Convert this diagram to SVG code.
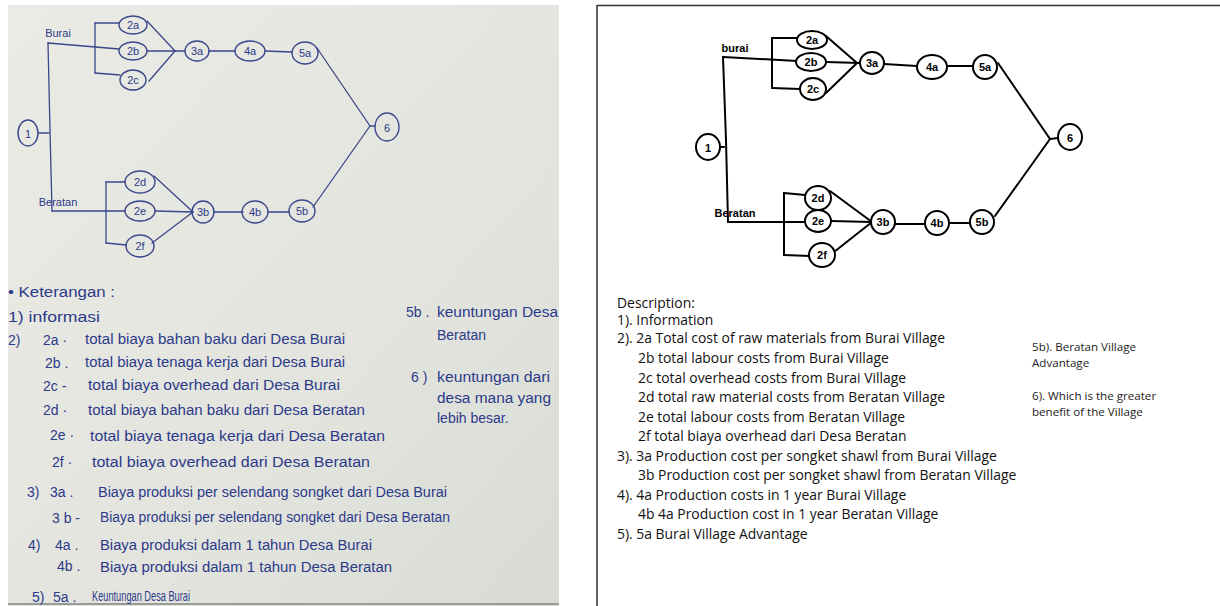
<svg xmlns="http://www.w3.org/2000/svg" width="1220" height="606" viewBox="0 0 1220 606">
<defs>
<linearGradient id="paper" x1="0" y1="0" x2="1" y2="1">
<stop offset="0" stop-color="#ebebe5"/>
<stop offset="0.6" stop-color="#e3e4de"/>
<stop offset="1" stop-color="#d8dbd5"/>
</linearGradient>
<style>
.pn{fill:none;stroke:#3a478c;stroke-width:1.4}
.pl{fill:none;stroke:#3a478c;stroke-width:1.3;stroke-linecap:round}
.pt{font-family:"Liberation Sans",sans-serif;font-size:11px;fill:#2c3a8a;text-anchor:middle}
.hw{font-family:"Liberation Sans",sans-serif;font-size:14px;fill:#2c3a8a}
.dn{fill:#fff;stroke:#000;stroke-width:2}
.dl{fill:none;stroke:#000;stroke-width:2;stroke-linecap:round}
.dt{font-family:"Liberation Sans",sans-serif;font-size:11px;font-weight:bold;fill:#000;text-anchor:middle}
.tx{font-family:"Open Sans",sans-serif;font-size:13.9px;fill:#111}
.ts{font-family:"Open Sans",sans-serif;font-size:11.6px;fill:#222}
</style>
</defs>
<rect width="1220" height="606" fill="#fff"/>

<!-- LEFT: photo of handwritten diagram -->
<g id="photo">
<rect x="8" y="5" width="551" height="601" fill="url(#paper)"/>
<line x1="8" y1="604" x2="559" y2="604" stroke="#9a9c98" stroke-width="2"/>
</g>

<g id="photo-connectors">
<line class="pl" x1="38" y1="133" x2="49" y2="133"/>
<polyline class="pl" points="48,43 50,130 52,211"/>
<line class="pl" x1="48" y1="43" x2="119" y2="49"/>
<line class="pl" x1="95" y1="23" x2="95" y2="73"/>
<line class="pl" x1="95" y1="23" x2="119" y2="23"/>
<line class="pl" x1="95" y1="73" x2="120" y2="75"/>
<line class="pl" x1="147" y1="21" x2="175" y2="51"/>
<line class="pl" x1="147" y1="51" x2="185" y2="51"/>
<line class="pl" x1="149" y1="81" x2="175" y2="51"/>
<line class="pl" x1="209" y1="51" x2="235" y2="51"/>
<line class="pl" x1="265" y1="51" x2="292" y2="52"/>
<line class="pl" x1="317" y1="48" x2="370" y2="126"/>
<line class="pl" x1="313" y1="207" x2="370" y2="126"/>
<line class="pl" x1="370" y1="126" x2="375" y2="126"/>
<line class="pl" x1="52" y1="211" x2="125" y2="211"/>
<line class="pl" x1="106" y1="182" x2="106" y2="243"/>
<line class="pl" x1="106" y1="182" x2="125" y2="182"/>
<line class="pl" x1="106" y1="243" x2="126" y2="245"/>
<line class="pl" x1="154" y1="176" x2="193" y2="212"/>
<line class="pl" x1="155" y1="211" x2="193" y2="212"/>
<line class="pl" x1="152" y1="243" x2="193" y2="212"/>
<line class="pl" x1="214" y1="212" x2="243" y2="212"/>
<line class="pl" x1="268" y1="212" x2="289" y2="212"/>
</g>

<g id="p1"><ellipse class="pn" cx="28" cy="133" rx="10" ry="13"/><text class="pt" x="28" y="138" font-size="14">1</text></g>
<g id="p2a"><ellipse class="pn" cx="133" cy="25" rx="14" ry="9"/><text class="pt" x="133" y="29">2a</text></g>
<g id="p2b"><ellipse class="pn" cx="133" cy="51" rx="14" ry="9"/><text class="pt" x="133" y="55">2b</text></g>
<g id="p2c"><ellipse class="pn" cx="133" cy="80" rx="13" ry="10"/><text class="pt" x="133" y="84">2c</text></g>
<g id="p3a"><ellipse class="pn" cx="197" cy="51" rx="12" ry="10"/><text class="pt" x="197" y="55">3a</text></g>
<g id="p4a"><ellipse class="pn" cx="250" cy="51" rx="15" ry="10"/><text class="pt" x="250" y="55">4a</text></g>
<g id="p5a"><ellipse class="pn" cx="305" cy="53" rx="13" ry="11"/><text class="pt" x="305" y="57">5a</text></g>
<g id="p6"><ellipse class="pn" cx="387" cy="127" rx="12" ry="14"/><text class="pt" x="387" y="132" font-size="13">6</text></g>
<g id="p2d"><ellipse class="pn" cx="140" cy="182" rx="15" ry="11"/><text class="pt" x="140" y="186">2d</text></g>
<g id="p2e"><ellipse class="pn" cx="140" cy="211" rx="15" ry="10"/><text class="pt" x="140" y="215">2e</text></g>
<g id="p2f"><ellipse class="pn" cx="140" cy="246" rx="14" ry="11"/><text class="pt" x="140" y="250">2f</text></g>
<g id="p3b"><ellipse class="pn" cx="203" cy="212" rx="11" ry="11"/><text class="pt" x="203" y="216">3b</text></g>
<g id="p4b"><ellipse class="pn" cx="255" cy="212" rx="13" ry="11"/><text class="pt" x="255" y="216">4b</text></g>
<g id="p5b"><ellipse class="pn" cx="302" cy="211" rx="13" ry="11"/><text class="pt" x="302" y="215">5b</text></g>
<g id="p-labels">
<text class="pt" x="58" y="37" text-anchor="start" font-size="11">Burai</text>
<text class="pt" x="58" y="206" text-anchor="start" font-size="11">Beratan</text>
</g>

<g id="photo-legend">
<text class="hw" x="8" y="297" textLength="107" lengthAdjust="spacingAndGlyphs">• Keterangan :</text>
<text class="hw" x="8" y="322" textLength="92" lengthAdjust="spacingAndGlyphs">1) informasi</text>
<text class="hw" x="8" y="345">2)</text>
<text class="hw" x="43" y="345">2a ·</text>
<text class="hw" x="85" y="344" textLength="260" lengthAdjust="spacingAndGlyphs">total biaya bahan baku dari Desa Burai</text>
<text class="hw" x="45" y="368">2b .</text>
<text class="hw" x="85" y="367" textLength="260" lengthAdjust="spacingAndGlyphs">total biaya tenaga kerja dari Desa Burai</text>
<text class="hw" x="43" y="391">2c -</text>
<text class="hw" x="88" y="390" textLength="252" lengthAdjust="spacingAndGlyphs">total biaya overhead dari Desa Burai</text>
<text class="hw" x="43" y="415">2d ·</text>
<text class="hw" x="88" y="415" textLength="277" lengthAdjust="spacingAndGlyphs">total biaya bahan baku dari Desa Beratan</text>
<text class="hw" x="50" y="440">2e ·</text>
<text class="hw" x="90" y="441" textLength="295" lengthAdjust="spacingAndGlyphs">total biaya tenaga kerja dari Desa Beratan</text>
<text class="hw" x="52" y="467">2f ·</text>
<text class="hw" x="92" y="467" textLength="278" lengthAdjust="spacingAndGlyphs">total biaya overhead dari Desa Beratan</text>
<text class="hw" x="27" y="497">3)</text>
<text class="hw" x="50" y="497">3a .</text>
<text class="hw" x="98" y="497" textLength="349" lengthAdjust="spacingAndGlyphs">Biaya produksi per selendang songket dari Desa Burai</text>
<text class="hw" x="52" y="523">3 b -</text>
<text class="hw" x="100" y="522" textLength="350" lengthAdjust="spacingAndGlyphs">Biaya produksi per selendang songket dari Desa Beratan</text>
<text class="hw" x="28" y="550">4)</text>
<text class="hw" x="55" y="550">4a .</text>
<text class="hw" x="100" y="550" textLength="272" lengthAdjust="spacingAndGlyphs">Biaya produksi dalam 1 tahun Desa Burai</text>
<text class="hw" x="57" y="571">4b .</text>
<text class="hw" x="100" y="572" textLength="292" lengthAdjust="spacingAndGlyphs">Biaya produksi dalam 1 tahun Desa Beratan</text>
<text class="hw" x="32" y="602">5)</text>
<text class="hw" x="53" y="602">5a .</text>
<text class="hw" x="92" y="601" font-size="11.5" textLength="98" lengthAdjust="spacingAndGlyphs">Keuntungan Desa Burai</text>
<text class="hw" x="406" y="317">5b .</text>
<text class="hw" x="437" y="317" font-size="13" textLength="121" lengthAdjust="spacingAndGlyphs">keuntungan Desa</text>
<text class="hw" x="437" y="340" font-size="13">Beratan</text>
<text class="hw" x="411" y="382">6 )</text>
<text class="hw" x="437" y="382" font-size="13" textLength="113" lengthAdjust="spacingAndGlyphs">keuntungan dari</text>
<text class="hw" x="437" y="403" font-size="13" textLength="114" lengthAdjust="spacingAndGlyphs">desa mana yang</text>
<text class="hw" x="437" y="423" font-size="12">lebih besar.</text>
</g>

<!-- RIGHT: redrawn diagram -->
<g id="frame">
<polyline points="597,606 597,5.5 1220,5.5" fill="none" stroke="#333" stroke-width="1.5"/>
</g>

<g id="connectors">
<line class="dl" x1="720" y1="147" x2="724" y2="147"/>
<polyline class="dl" points="723,57 726,140 728,222"/>
<line class="dl" x1="723" y1="57" x2="797" y2="61"/>
<line class="dl" x1="772" y1="38" x2="772" y2="88"/>
<line class="dl" x1="772" y1="38" x2="797" y2="38"/>
<line class="dl" x1="772" y1="88" x2="800" y2="89"/>
<line class="dl" x1="826" y1="36" x2="857" y2="63"/>
<line class="dl" x1="826" y1="62" x2="860" y2="63"/>
<line class="dl" x1="826" y1="93" x2="857" y2="63"/>
<line class="dl" x1="884" y1="64" x2="917" y2="66"/>
<line class="dl" x1="947" y1="66" x2="973" y2="66"/>
<line class="dl" x1="998" y1="63" x2="1050" y2="139"/>
<line class="dl" x1="995" y1="216" x2="1050" y2="139"/>
<line class="dl" x1="1050" y1="139" x2="1058" y2="138"/>
<line class="dl" x1="728" y1="222" x2="805" y2="222"/>
<line class="dl" x1="784" y1="193" x2="784" y2="255"/>
<line class="dl" x1="784" y1="193" x2="805" y2="195"/>
<line class="dl" x1="784" y1="255" x2="810" y2="256"/>
<line class="dl" x1="830" y1="191" x2="872" y2="222"/>
<line class="dl" x1="831" y1="221" x2="872" y2="222"/>
<line class="dl" x1="834" y1="252" x2="872" y2="222"/>
<line class="dl" x1="895" y1="224" x2="925" y2="224"/>
<line class="dl" x1="949" y1="223" x2="970" y2="223"/>
</g>

<g id="n1"><ellipse class="dn" cx="708" cy="147" rx="12" ry="13"/><text class="dt" x="708" y="152" font-size="14">1</text></g>
<g id="n2a"><ellipse class="dn" cx="812" cy="40" rx="15" ry="9"/><text class="dt" x="812" y="44">2a</text></g>
<g id="n2b"><ellipse class="dn" cx="811" cy="62" rx="15" ry="9"/><text class="dt" x="811" y="66">2b</text></g>
<g id="n2c"><ellipse class="dn" cx="813" cy="89" rx="13" ry="11"/><text class="dt" x="813" y="93">2c</text></g>
<g id="n3a"><ellipse class="dn" cx="872" cy="63" rx="12" ry="11"/><text class="dt" x="872" y="67">3a</text></g>
<g id="n4a"><ellipse class="dn" cx="932" cy="67" rx="15" ry="12"/><text class="dt" x="932" y="71">4a</text></g>
<g id="n5a"><ellipse class="dn" cx="985" cy="67" rx="12" ry="12"/><text class="dt" x="985" y="71">5a</text></g>
<g id="n6"><ellipse class="dn" cx="1070" cy="137" rx="12" ry="13"/><text class="dt" x="1070" y="142" font-size="13">6</text></g>
<g id="n2d"><ellipse class="dn" cx="818" cy="198" rx="13" ry="12"/><text class="dt" x="818" y="202">2d</text></g>
<g id="n2e"><ellipse class="dn" cx="818" cy="221" rx="13" ry="11"/><text class="dt" x="818" y="225">2e</text></g>
<g id="n2f"><ellipse class="dn" cx="822" cy="255" rx="13" ry="12"/><text class="dt" x="822" y="259">2f</text></g>
<g id="n3b"><ellipse class="dn" cx="883" cy="222" rx="12" ry="12"/><text class="dt" x="883" y="226">3b</text></g>
<g id="n4b"><ellipse class="dn" cx="937" cy="223" rx="12" ry="12"/><text class="dt" x="937" y="227">4b</text></g>
<g id="n5b"><ellipse class="dn" cx="982" cy="222" rx="12" ry="12"/><text class="dt" x="982" y="226">5b</text></g>
<g id="branch-labels">
<text class="dt" x="735" y="52" text-anchor="start" font-size="9">burai</text>
<text class="dt" x="735" y="217" text-anchor="start" font-size="9">Beratan</text>
</g>

<g id="description">
<text class="tx" x="617" y="308">Description:</text>
<text class="tx" x="617" y="325">1). Information</text>
<text class="tx" x="617" y="343">2). 2a Total cost of raw materials from Burai Village</text>
<text class="tx" x="638" y="363">2b total labour costs from Burai Village</text>
<text class="tx" x="638" y="383">2c total overhead costs from Burai Village</text>
<text class="tx" x="638" y="402">2d total raw material costs from Beratan Village</text>
<text class="tx" x="638" y="422">2e total labour costs from Beratan Village</text>
<text class="tx" x="638" y="441">2f total biaya overhead dari Desa Beratan</text>
<text class="tx" x="617" y="461">3). 3a Production cost per songket shawl from Burai Village</text>
<text class="tx" x="638" y="480">3b Production cost per songket shawl from Beratan Village</text>
<text class="tx" x="617" y="500">4). 4a Production costs in 1 year Burai Village</text>
<text class="tx" x="638" y="519">4b 4a Production cost in 1 year Beratan Village</text>
<text class="tx" x="617" y="539">5). 5a Burai Village Advantage</text>
<text class="ts" x="1032" y="351">5b). Beratan Village</text>
<text class="ts" x="1032" y="367">Advantage</text>
<text class="ts" x="1032" y="400">6). Which is the greater</text>
<text class="ts" x="1032" y="416">benefit of the Village</text>
</g>
</svg>
